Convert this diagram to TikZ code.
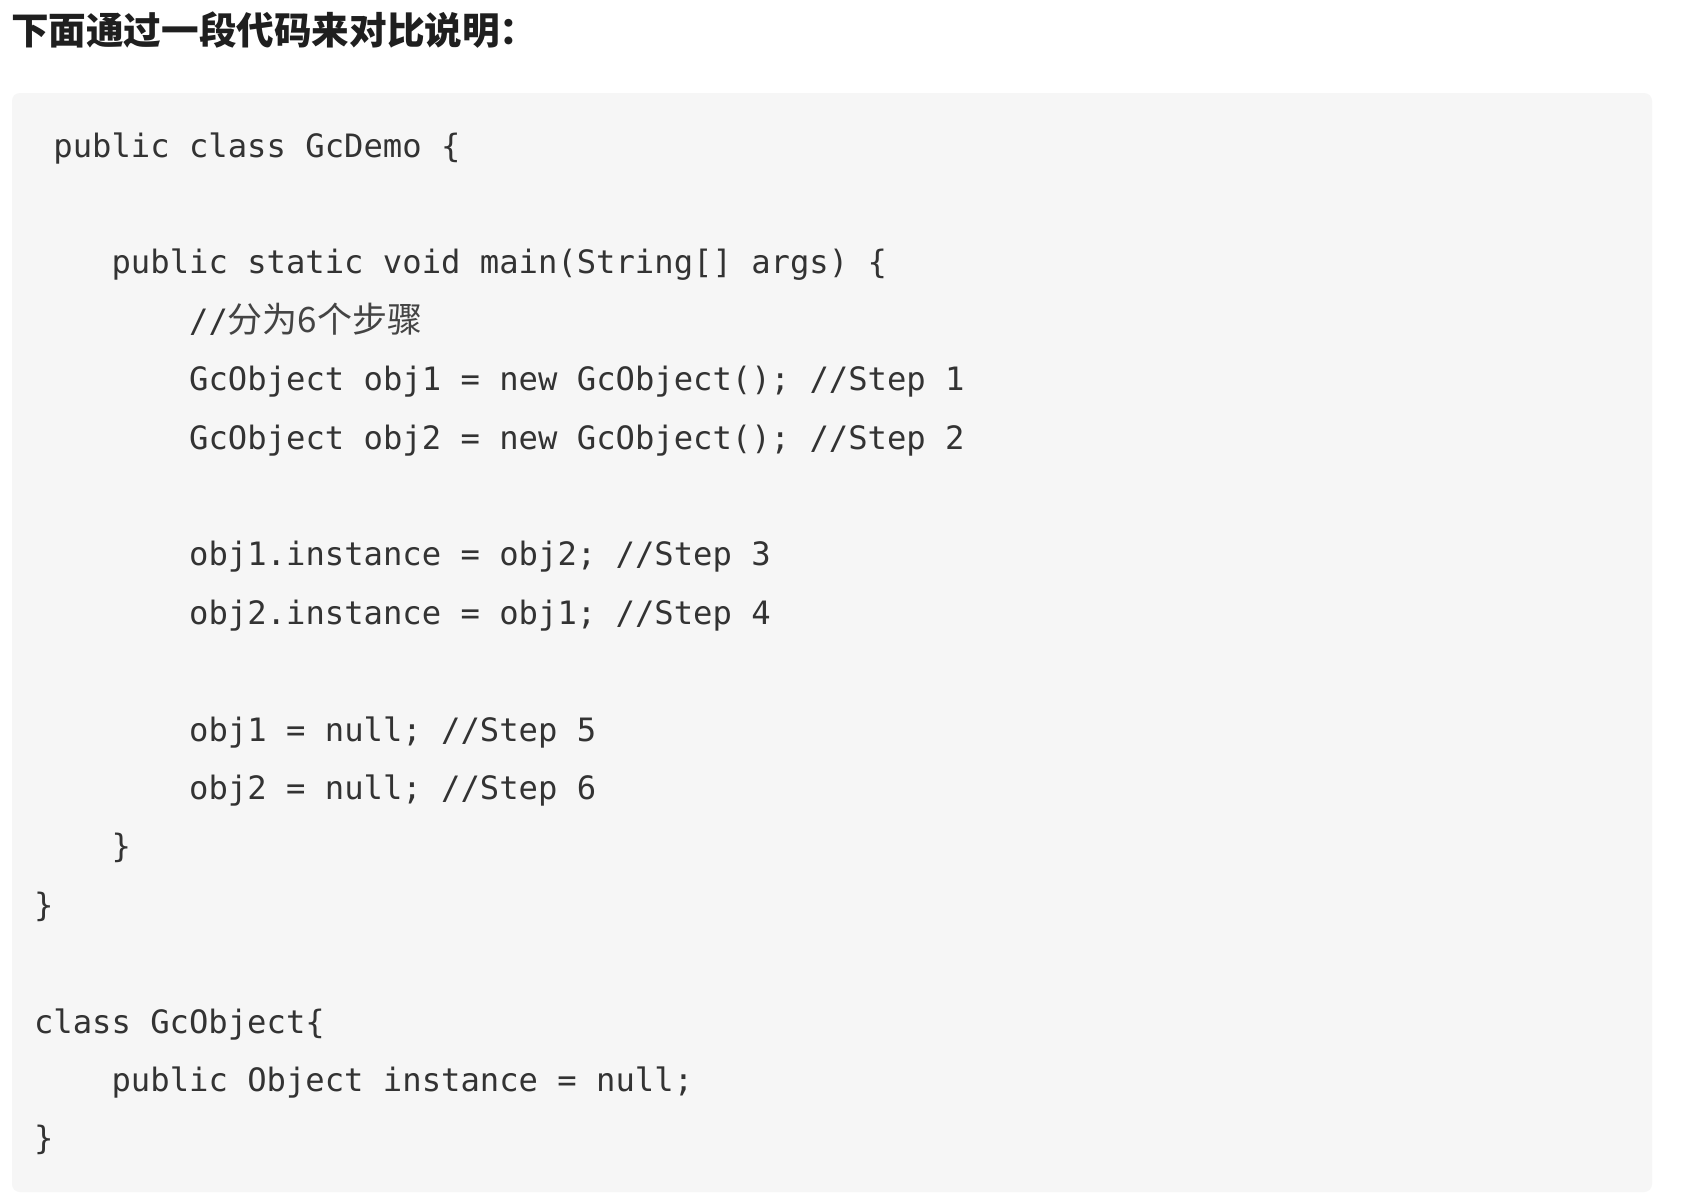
\documentclass[tikz,border=0pt]{standalone}
\usepackage{fontspec}
\setmonofont{DejaVu Sans Mono}
\newfontfamily\cjk{Noto Sans CJK SC}
\definecolor{codebg}{HTML}{F6F6F6}
\definecolor{codefg}{HTML}{333333}
\definecolor{cmtfg}{HTML}{444444}
\definecolor{titlefg}{HTML}{1F1F1F}
\tikzset{
  code/.style={anchor=base west, inner sep=0pt, outer sep=0pt, text=codefg,
    font=\ttfamily\fontsize{16.1pt}{20pt}\selectfont},
  titletext/.style={anchor=base west, inner sep=0pt, outer sep=0pt, text=titlefg,
    font=\cjk\bfseries\fontsize{18.8pt}{22pt}\selectfont},
  codebox/.style={fill=codebg, draw=none, rounded corners=4pt}
}
\newcommand\codeline[3]{\node[code] (l#1) at ({34+19.4*#2},{157+58.4*#1}) {#3};}
\begin{document}
\begin{tikzpicture}[x=0.5pt,y=-0.5pt]
  \fill[white] (0,0) rectangle (1684,1196);
  \useasboundingbox (0,0) rectangle (1684,1196);
  \node[titletext] (title) at (11,44) {下面通过一段代码来对比说明：};
  \path[codebox] (12,93) rectangle (1652,1192);
  \codeline{0}{1}{public class GcDemo \{}
  \codeline{2}{4}{public static void main(String[] args) \{}
  \codeline{3}{8}{//{\cjk\color{cmtfg}\fontsize{17.5pt}{20pt}\selectfont 分为6个步骤}}
  \codeline{4}{8}{GcObject obj1 = new GcObject(); //Step 1}
  \codeline{5}{8}{GcObject obj2 = new GcObject(); //Step 2}
  \codeline{7}{8}{obj1.instance = obj2; //Step 3}
  \codeline{8}{8}{obj2.instance = obj1; //Step 4}
  \codeline{10}{8}{obj1 = null; //Step 5}
  \codeline{11}{8}{obj2 = null; //Step 6}
  \codeline{12}{4}{\}}
  \codeline{13}{0}{\}}
  \codeline{15}{0}{class GcObject\{}
  \codeline{16}{4}{public Object instance = null;}
  \codeline{17}{0}{\}}
\end{tikzpicture}
\end{document}
